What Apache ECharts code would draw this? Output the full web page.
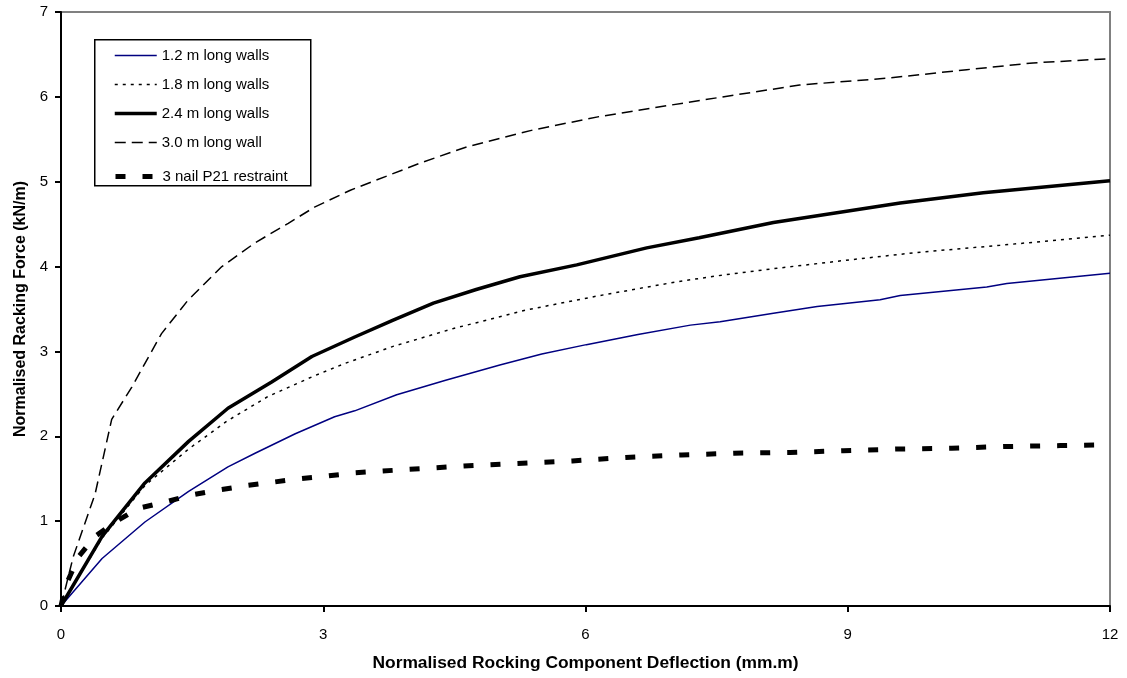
<!DOCTYPE html>
<html>
<head>
<meta charset="utf-8">
<script src="https://cdn.jsdelivr.net/npm/echarts@6/dist/echarts.min.js"></script>
<style>
html,body{margin:0;padding:0;background:#fff;}
#c{width:1127px;height:678px;}
</style>
</head>
<body>
<div id="c"></div>
<script>
var xTicks = [0, 3, 6, 9, 12];
var yTicks = [0, 1, 2, 3, 4, 5, 6, 7];
var seriesNames = ['1.2 m long walls', '1.8 m long walls', '2.4 m long walls', '3.0 m long wall', '3 nail P21 restraint'];

var wall12 = [[0,0],[0.47,0.56],[0.96,0.99],[1.46,1.35],[1.91,1.64],[2.22,1.80],[2.68,2.03],[3.13,2.23],[3.36,2.30],[3.84,2.49],[4.4,2.66],[5.02,2.84],[5.5,2.97],[6.01,3.08],[6.6,3.20],[7.2,3.31],[7.54,3.35],[8.15,3.45],[8.65,3.53],[9.37,3.61],[9.6,3.66],[10.59,3.76],[10.82,3.80],[12,3.92]];
var wall18 = [[0,0],[0.47,0.80],[0.96,1.42],[1.46,1.85],[1.9,2.18],[2.37,2.47],[2.87,2.70],[3.25,2.86],[3.8,3.06],[4.49,3.27],[5.33,3.49],[6.17,3.66],[7.04,3.82],[7.5,3.89],[8.19,3.98],[9.03,4.08],[9.83,4.17],[10.74,4.25],[12,4.37]];
var wall24 = [[0,0],[0.47,0.82],[0.96,1.45],[1.46,1.94],[1.91,2.33],[2.41,2.64],[2.87,2.94],[3.36,3.17],[3.8,3.37],[4.26,3.57],[4.75,3.73],[5.25,3.88],[5.9,4.02],[6.7,4.22],[7.3,4.34],[8.15,4.52],[9.6,4.75],[10.55,4.87],[12,5.01]];
var wall30 = [[0,0],[0.14,0.58],[0.39,1.32],[0.58,2.2],[0.81,2.58],[1.15,3.21],[1.45,3.6],[1.84,4.0],[2.22,4.28],[2.6,4.51],[2.9,4.70],[3.31,4.90],[4.11,5.22],[4.64,5.41],[5.4,5.61],[6.17,5.77],[7.2,5.94],[8.45,6.14],[9.45,6.22],[10.36,6.32],[11.12,6.40],[12,6.45]];
var restraint = [[0,0],[0.05,0.23],[0.2,0.58],[0.39,0.82],[0.62,0.99],[0.88,1.15],[1.21,1.23],[1.5,1.31],[1.82,1.37],[2.13,1.42],[2.43,1.46],[2.73,1.50],[3.03,1.53],[3.37,1.57],[3.97,1.61],[4.61,1.65],[5.22,1.68],[5.85,1.71],[6.46,1.75],[7.1,1.78],[7.7,1.80],[8.34,1.81],[8.95,1.83],[9.58,1.85],[10.19,1.86],[10.83,1.88],[11.43,1.89],[12,1.90]];

var FONT = 'Liberation Sans, Arial, sans-serif';
var chart = echarts.init(document.getElementById('c'), null, {renderer: 'canvas'});

function line(name, data, color, width, type) {
  return {
    name: name, type: 'line', data: data, showSymbol: false, symbol: 'none',
    animation: false, smooth: false,
    lineStyle: {color: color, width: width, type: type, cap: 'butt'},
    itemStyle: {color: color}
  };
}

var legendCommon = {
  orient: 'vertical', left: 108, itemWidth: 42, itemHeight: 14, itemGap: 14,
  selectedMode: false,
  itemStyle: {opacity: 0},
  lineStyle: {width: 'inherit'},
  textStyle: {fontFamily: FONT, fontSize: 15, color: '#000'}
};

chart.setOption({
  backgroundColor: '#fff',
  animation: false,
  grid: {left: 61, right: 17, top: 12, bottom: 72, show: true, borderColor: '#808080', borderWidth: 2, backgroundColor: 'transparent'},
  xAxis: {
    type: 'value', min: xTicks[0], max: xTicks[xTicks.length-1], interval: 3,
    name: 'Normalised Rocking Component Deflection (mm.m)', nameLocation: 'middle', nameGap: 49,
    nameTextStyle: {fontFamily: FONT, fontSize: 17.4, fontWeight: 'bold', color: '#000'},
    axisLine: {show: true, lineStyle: {color: '#000', width: 2}},
    axisTick: {show: true, length: 6, lineStyle: {color: '#000', width: 2}},
    axisLabel: {fontFamily: FONT, fontSize: 15, color: '#000', margin: 21},
    splitLine: {show: false}
  },
  yAxis: {
    type: 'value', min: yTicks[0], max: yTicks[yTicks.length-1], interval: 1,
    name: 'Normalised Racking Force (kN/m)', nameLocation: 'middle', nameGap: 32,
    nameTextStyle: {fontFamily: FONT, fontSize: 16, fontWeight: 'bold', color: '#000'},
    axisLine: {show: true, lineStyle: {color: '#000', width: 2}},
    axisTick: {show: true, length: 6, lineStyle: {color: '#000', width: 2}},
    axisLabel: {fontFamily: FONT, fontSize: 15, color: '#000', margin: 13},
    splitLine: {show: false}
  },
  legend: [
    Object.assign({}, legendCommon, {top: 43, data: seriesNames.slice(0, 4)}),
    Object.assign({}, legendCommon, {top: 164, data: seriesNames.slice(4)})
  ],
  graphic: [{
    type: 'rect', left: 94, top: 39, z: 0,
    shape: {width: 216, height: 146},
    style: {fill: '#fff', stroke: '#000', lineWidth: 1.5}
  }],
  series: [
    line(seriesNames[0], wall12, '#000080', 1.5, 'solid'),
    line(seriesNames[1], wall18, '#000', 1.5, [3, 5]),
    line(seriesNames[2], wall24, '#000', 3.5, 'solid'),
    line(seriesNames[3], wall30, '#000', 1.5, [11, 6]),
    line(seriesNames[4], restraint, '#000', 5, [10, 17])
  ]
});
</script>
</body>
</html>
